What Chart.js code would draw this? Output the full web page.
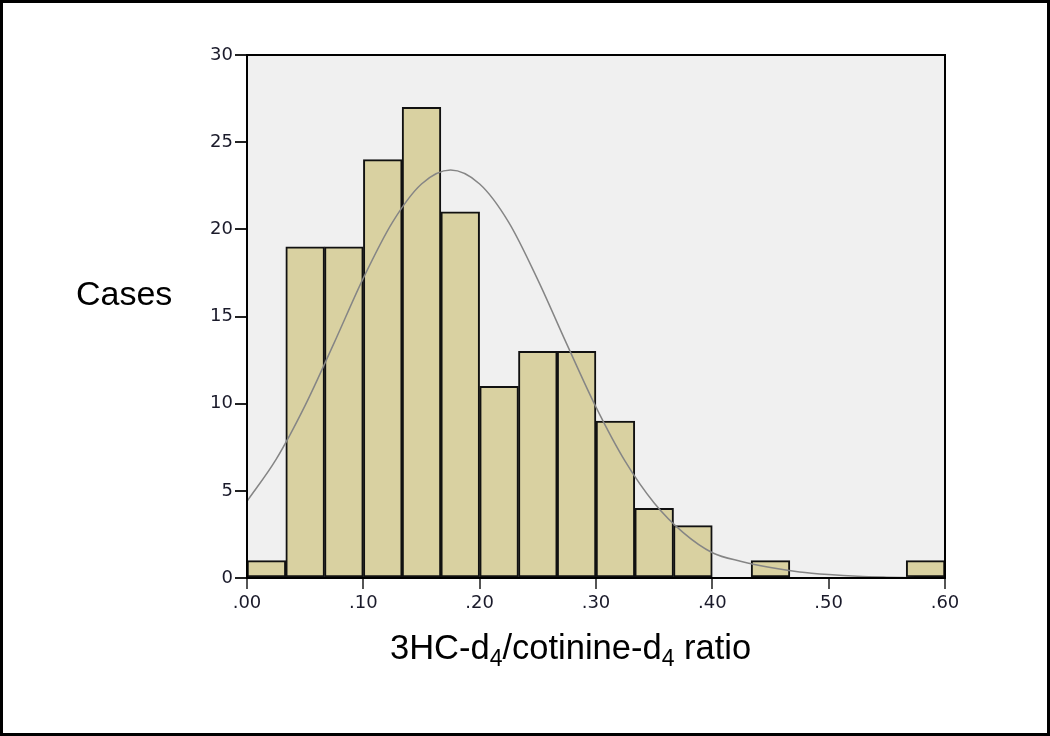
<!DOCTYPE html>
<html>
<head>
<meta charset="utf-8">
<script src="https://cdn.jsdelivr.net/npm/chart.js"></script>
<style>
    html, body { margin: 0; padding: 0; background: #fff; }
    #wrap { width: 1050px; height: 736px; position: relative; }
</style>
</head>
<body>
<div id="wrap"><canvas id="chart" width="1050" height="736"></canvas></div>
<script>
// histogram bins: centre of each bin (width .0333) and number of cases
const binCenters = [
    0.0167, 0.0500, 0.0833, 0.1167, 0.1500, 0.1833, 0.2167, 0.2500, 0.2833,
    0.3167, 0.3500, 0.3833, 0.4167, 0.4500, 0.4833, 0.5167, 0.5500, 0.5833,
];
const binCounts = [1, 19, 19, 24, 27, 21, 11, 13, 13, 9, 4, 3, 0, 1, 0, 0, 0, 1];

// fitted normal curve
const curveX = [
    0, 0.025, 0.05, 0.075, 0.1, 0.125, 0.15, 0.175, 0.2, 0.225, 0.25, 0.275,
    0.3, 0.325, 0.35, 0.375, 0.4, 0.425, 0.45, 0.475, 0.5, 0.525, 0.55, 0.575, 0.6,
];
const curveY = [
    4.4, 6.8, 9.9, 13.5, 17.2, 20.4, 22.6, 23.4, 22.6, 20.4, 17.1, 13.4,
    9.8, 6.7, 4.3, 2.6, 1.45, 0.95, 0.6, 0.35, 0.2, 0.1, 0.05, 0.02, 0.01,
];

const xTicks = [0, 0.1, 0.2, 0.3, 0.4, 0.5, 0.6];
const yTicks = [0, 5, 10, 15, 20, 25, 30];

const TITLE_FONT = '"Liberation Sans", Arial, sans-serif';
const TICK_FONT = '"DejaVu Sans", Verdana, sans-serif';

const framePlugin = {
    id: 'frame',
    beforeDraw(chart) {
        const { ctx, chartArea: a } = chart;
        ctx.save();
        ctx.fillStyle = '#f0f0f0';
        ctx.fillRect(a.left, a.top, a.right - a.left, a.bottom - a.top);
        ctx.restore();
    },
    afterDraw(chart) {
        const { ctx, chartArea: a, width, height } = chart;
        ctx.save();
        // plot frame
        ctx.strokeStyle = '#000';
        ctx.lineWidth = 2;
        ctx.strokeRect(a.left, a.top, a.right - a.left, a.bottom - a.top);
        // outer frame
        ctx.lineWidth = 3;
        ctx.strokeRect(1.5, 1.5, width - 3, height - 3);

        // axis titles
        ctx.fillStyle = '#000';
        ctx.textBaseline = 'alphabetic';
        ctx.textAlign = 'left';
        ctx.font = `34px ${TITLE_FONT}`;
        ctx.fillText('Cases', 76, 305);

        const parts = [
            ['3HC-d', false], ['4', true], ['/cotinine-d', false], ['4', true], [' ratio', false],
        ];
        let x = 390;
        for (const [txt, sub] of parts) {
            ctx.font = sub ? `23px ${TITLE_FONT}` : `34.5px ${TITLE_FONT}`;
            ctx.fillText(txt, x, sub ? 666 : 659);
            x += ctx.measureText(txt).width;
        }
        ctx.restore();
    },
};

new Chart(document.getElementById('chart'), {
    data: {
        datasets: [
            {
                type: 'line',
                data: curveX.map((v, i) => ({ x: v, y: curveY[i] })),
                borderColor: '#858585',
                borderWidth: 1.5,
                pointRadius: 0,
                cubicInterpolationMode: 'monotone',
                order: 0,
            },
            {
                type: 'bar',
                data: binCenters.map((v, i) => ({ x: v, y: binCounts[i] })),
                backgroundColor: '#d9d1a1',
                borderColor: '#111',
                borderWidth: 2,
                borderSkipped: false,
                barPercentage: 1,
                categoryPercentage: 1,
                order: 1,
            },
        ],
    },
    options: {
        responsive: false,
        animation: false,
        events: [],
        layout: { padding: { top: 55, right: 105, left: 0, bottom: 0 } },
        plugins: { legend: { display: false }, tooltip: { enabled: false } },
        scales: {
            x: {
                type: 'linear',
                min: 0,
                max: 0.6,
                offset: false,
                afterBuildTicks: (s) => { s.ticks = xTicks.map(v => ({ value: v })); },
                afterFit: (s) => { s.height = 158; },
                grid: { drawOnChartArea: false, tickLength: 11, color: '#555', lineWidth: 2, offset: false },
                border: { color: '#000', width: 2 },
                ticks: {
                    color: '#1a1a2a',
                    font: { family: TICK_FONT, size: 18 },
                    padding: 4,
                    maxRotation: 0,
                    callback: (v) => v.toFixed(2).replace(/^0/, ''),
                },
            },
            y: {
                min: 0,
                max: 30,
                afterBuildTicks: (s) => { s.ticks = yTicks.map(v => ({ value: v })); },
                afterFit: (s) => { s.width = 247; },
                grid: { drawOnChartArea: false, tickLength: 12, color: '#222', lineWidth: 2 },
                border: { color: '#000', width: 2 },
                ticks: {
                    color: '#1a1a2a',
                    font: { family: TICK_FONT, size: 18 },
                    padding: 2,
                },
            },
        },
    },
    plugins: [framePlugin],
});
</script>
</body>
</html>
